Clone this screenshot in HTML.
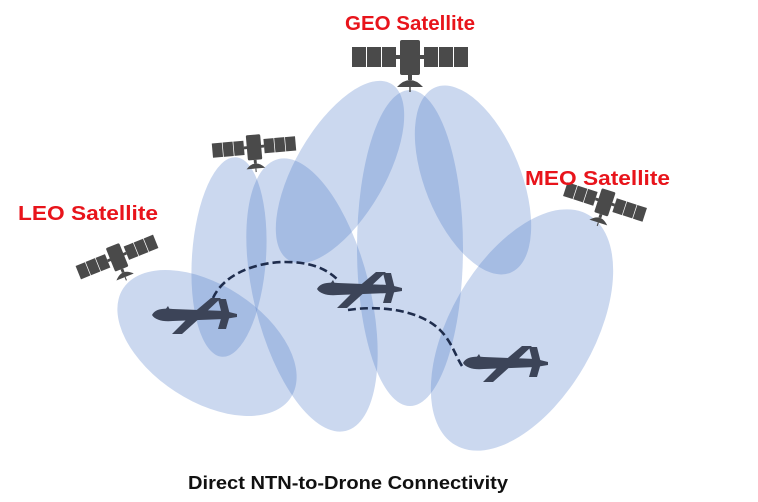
<!DOCTYPE html>
<html><head><meta charset="utf-8"><style>
html,body{margin:0;padding:0;background:#fff;width:758px;height:502px;overflow:hidden}
svg{display:block}
text{font-family:"Liberation Sans",Arial,sans-serif;font-weight:bold}
</style></head><body>
<svg width="758" height="502" viewBox="0 0 758 502">
<defs>
<g id="sat">
  <rect x="-58" y="-10" width="14" height="20" fill="#4a4a4a"/>
  <rect x="-43" y="-10" width="14" height="20" fill="#4a4a4a"/>
  <rect x="-28" y="-10" width="14" height="20" fill="#4a4a4a"/>
  <rect x="-14" y="-2" width="6" height="4" fill="#4a4a4a"/>
  <rect x="-10" y="-17" width="20" height="35" rx="2" fill="#4a4a4a"/>
  <rect x="8" y="-2" width="6" height="4" fill="#4a4a4a"/>
  <rect x="14" y="-10" width="14" height="20" fill="#4a4a4a"/>
  <rect x="29" y="-10" width="14" height="20" fill="#4a4a4a"/>
  <rect x="44" y="-10" width="14" height="20" fill="#4a4a4a"/>
  <rect x="-2" y="18" width="4" height="5" fill="#4a4a4a"/>
  <path d="M-13,30 Q0,16 13,30 Z" fill="#4a4a4a"/>
  <line x1="0" y1="30" x2="0" y2="35" stroke="#4a4a4a" stroke-width="1.5"/>
</g>
<g id="drone" fill="#3c4458">
  <path d="M-43,0 C-40,-6 -32,-7 -22,-6 L30,-4 L42,-1 L42,2 L30,4 L-22,6 C-32,7 -40,5 -43,0Z"/>
  <path d="M-23,19 L-13,19 L7,1 L26,-17 L16,-17 L-3,-1 Z"/>
  <path d="M23,-16 L31,-16 L35,0 L31,14 L23,14 L27,0 Z"/>
  <path d="M-30,-5 L-27,-9 L-25,-5Z"/>
</g>
</defs>
<g fill="#4472c4" fill-opacity="0.28">
  <ellipse cx="207" cy="343" rx="100" ry="58" transform="rotate(33 207 343)"/>
  <ellipse cx="229" cy="257" rx="37" ry="100" transform="rotate(4 229 257)"/>
  <ellipse cx="312" cy="295" rx="58" ry="140" transform="rotate(-14 312 295)"/>
  <ellipse cx="340" cy="172" rx="45" ry="102" transform="rotate(30 340 172)"/>
  <ellipse cx="410" cy="248" rx="53" ry="158" transform="rotate(0 410 248)"/>
  <ellipse cx="473" cy="180" rx="48" ry="100" transform="rotate(-22 473 180)"/>
  <ellipse cx="522" cy="330" rx="72" ry="133" transform="rotate(30 522 330)"/>
</g>
<use href="#sat" transform="translate(410,57)"/>
<use href="#sat" transform="translate(254,147) rotate(-5) scale(0.72)"/>
<use href="#sat" transform="translate(117,257) rotate(-22) scale(0.72)"/>
<use href="#sat" transform="translate(605,202) rotate(18) scale(0.72)"/>
<g fill="none" stroke="#1f2d4d" stroke-width="2.6" stroke-dasharray="8,4">
  <path d="M213,298 C225,272 260,262 285,262 C310,262 325,268 337,279"/>
  <path d="M348,310 C380,305 420,310 440,330 C452,342 455,355 462,366"/>
</g>
<use href="#drone" transform="translate(195,315)"/>
<use href="#drone" transform="translate(360,289)"/>
<use href="#drone" transform="translate(506,363)"/>
<text x="345" y="30" font-size="20" fill="#e8141b" textLength="130" lengthAdjust="spacingAndGlyphs">GEO Satellite</text>
<text x="525" y="185" font-size="20" fill="#e8141b" textLength="145" lengthAdjust="spacingAndGlyphs">MEO Satellite</text>
<text x="18" y="220" font-size="20" fill="#e8141b" textLength="140" lengthAdjust="spacingAndGlyphs">LEO Satellite</text>
<text x="188" y="489" font-size="18" fill="#111" textLength="320" lengthAdjust="spacingAndGlyphs">Direct NTN-to-Drone Connectivity</text>
</svg>
</body></html>
